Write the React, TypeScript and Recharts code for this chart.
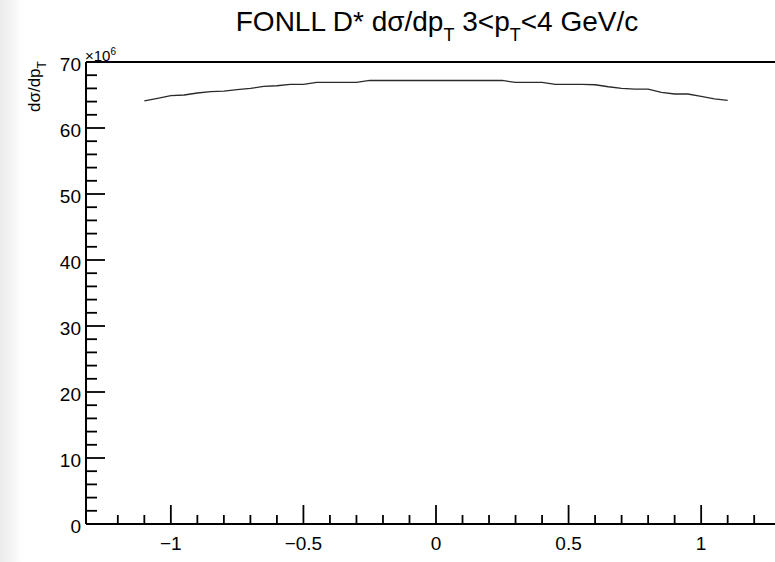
import { LineChart, Line, XAxis, YAxis, ReferenceLine } from 'recharts';

// FONLL D* dsigma/dpT in the 3<pT<4 GeV/c bin, vs rapidity (values in units of 1e6)
const rapidity = [
  -1.1, -1.05, -1.0, -0.95, -0.9, -0.85, -0.8, -0.75, -0.7, -0.65, -0.6, -0.55,
  -0.5, -0.45, -0.4, -0.35, -0.3, -0.25, -0.2, -0.15, -0.1, -0.05, 0, 0.05, 0.1,
  0.15, 0.2, 0.25, 0.3, 0.35, 0.4, 0.45, 0.5, 0.55, 0.6, 0.65, 0.7, 0.75, 0.8,
  0.85, 0.9, 0.95, 1.0, 1.05, 1.1,
];
const dsigma = [
  64.1, 64.5, 64.9, 65.0, 65.3, 65.5, 65.6, 65.8, 66.0, 66.3, 66.4, 66.6,
  66.6, 66.9, 66.9, 66.9, 66.9, 67.2, 67.2, 67.2, 67.2, 67.2, 67.2, 67.2, 67.2,
  67.2, 67.2, 67.2, 66.9, 66.9, 66.9, 66.6, 66.6, 66.6, 66.55, 66.25, 66.0, 65.9, 65.9,
  65.4, 65.15, 65.15, 64.8, 64.4, 64.2,
];

const xTicks = [
  -1.2, -1.1, -1, -0.9, -0.8, -0.7, -0.6, -0.5, -0.4, -0.3, -0.2, -0.1, 0,
  0.1, 0.2, 0.3, 0.4, 0.5, 0.6, 0.7, 0.8, 0.9, 1, 1.1, 1.2, 1.3,
];
const xLabels = [-1, -0.5, 0, 0.5, 1];
const yTicks = [
  0, 2, 4, 6, 8, 10, 12, 14, 16, 18, 20, 22, 24, 26, 28, 30, 32, 34, 36, 38, 40,
  42, 44, 46, 48, 50, 52, 54, 56, 58, 60, 62, 64, 66, 68, 70,
];
const yLabels = [0, 10, 20, 30, 40, 50, 60, 70];

const data = rapidity.map((x, i) => ({ x, v: dsigma[i] }));

const FONT = '"Liberation Sans", Arial, sans-serif';

const fmt = (v: number) => (v < 0 ? '\u2212' + String(-v) : String(v));

const XTick = (props: any) => {
  const { x, y, payload } = props;
  const v = payload.value;
  const major = xLabels.some((m) => Math.abs(m - v) < 1e-6);
  return (
    <g>
      <line x1={x} x2={x} y1={y} y2={y - (major ? 19 : 9)} stroke="#000" strokeWidth={1.8} />
      {major && (
        <text x={x} y={y + 26} textAnchor="middle" fontSize={19} fontFamily={FONT} fill="#000">
          {fmt(v)}
        </text>
      )}
    </g>
  );
};

const YTick = (props: any) => {
  const { x, y, payload } = props;
  const v = payload.value;
  const major = yLabels.includes(v);
  return (
    <g>
      <line x1={x} x2={x + (major ? 19 : 11)} y1={y} y2={y} stroke="#000" strokeWidth={1.8} />
      {major && (
        <text x={x - 5} y={y + 9} textAnchor="end" fontSize={19} fontFamily={FONT} fill="#000">
          {v}
        </text>
      )}
    </g>
  );
};

export default function App() {
  return (
    <div
      style={{
        position: 'absolute',
        left: 0,
        top: 0,
        width: 775,
        height: 562,
        overflow: 'hidden',
        background: 'linear-gradient(to right, #ebebeb 0px, #f4f4f4 12px, #fff 22px)',
      }}
    >
      <LineChart width={800} height={562} data={data} margin={{ top: 62, right: 14, bottom: 37, left: 85 }}>
        <XAxis
          type="number"
          dataKey="x"
          domain={[-1.32, 1.32]}
          ticks={xTicks}
          interval={0}
          height={1}
          tickSize={0}
          tickMargin={0}
          tickLine={false}
          tick={<XTick />}
          axisLine={{ stroke: '#000', strokeWidth: 2 }}
          allowDataOverflow
        />
        <YAxis
          type="number"
          domain={[0, 70]}
          ticks={yTicks}
          interval={0}
          width={1}
          tickSize={0}
          tickMargin={0}
          tickLine={false}
          tick={<YTick />}
          axisLine={{ stroke: '#000', strokeWidth: 2 }}
          allowDataOverflow
        />
        <ReferenceLine y={70} stroke="#000" strokeWidth={2} />
        <Line
          type="linear"
          dataKey="v"
          stroke="#2a2a2a"
          strokeWidth={1.3}
          dot={false}
          isAnimationActive={false}
        />
      </LineChart>
      <svg
        width={775}
        height={562}
        style={{ position: 'absolute', left: 0, top: 0, pointerEvents: 'none' }}
        fontFamily={FONT}
      >
        <text x={437} y={31} textAnchor="middle" fontSize={28} fill="#000">
          FONLL D* dσ/dp<tspan fontSize={18} dy={10}>T</tspan>
          <tspan dy={-10}> 3&lt;p</tspan>
          <tspan fontSize={18} dy={10}>T</tspan>
          <tspan dy={-10}>&lt;4 GeV/c</tspan>
        </text>
        <text x={85} y={61} fontSize={15} fill="#000">
          ×10<tspan fontSize={10} dy={-6}>6</tspan>
        </text>
        <text transform="translate(40,112) rotate(-90)" fontSize={17} fill="#000">
          dσ/dp<tspan fontSize={12} dy={6}>T</tspan>
        </text>
      </svg>
    </div>
  );
}
